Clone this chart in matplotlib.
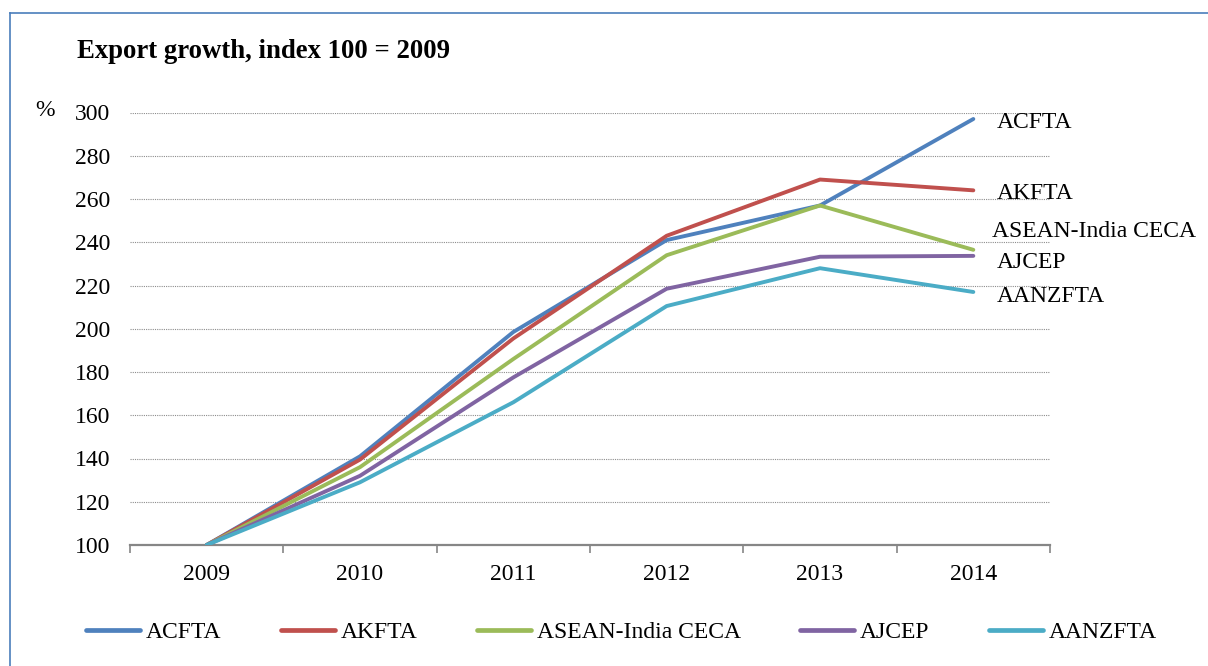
import matplotlib
matplotlib.use("Agg")
import matplotlib.pyplot as plt
from matplotlib.lines import Line2D

years = ["2009", "2010", "2011", "2012", "2013", "2014"]
series_names = ["ACFTA", "AKFTA", "ASEAN-India CECA", "AJCEP", "AANZFTA"]
acfta = [100, 141, 198.5, 241, 257, 297]
akfta = [100, 139.5, 195.5, 243, 269, 264]
asean_india = [100, 136, 186, 234, 257, 236.5]
ajcep = [100, 132, 177.5, 218.5, 233.3, 233.7]
aanzfta = [100, 129, 166, 210.5, 228, 217]
colors = ["#4F81BD", "#C0504D", "#9BBB59", "#8064A2", "#4BACC6"]
yticks = [100, 120, 140, 160, 180, 200, 220, 240, 260, 280, 300]

W, H = 1208, 666
plt.rcParams['font.family'] = ['Liberation Serif', 'DejaVu Serif']
fig = plt.figure(figsize=(W / 100, H / 100), dpi=100)

def fx(px):
    return px / W

def fy(py):
    return 1 - py / H

ax = fig.add_axes([fx(130), fy(545), fx(1050) - fx(130), fy(112.5) - fy(545)])
xs = list(range(len(years)))
for vals, name, c in zip([acfta, akfta, asean_india, ajcep, aanzfta], series_names, colors):
    ax.plot(xs, vals, color=c, lw=2.8, label=name, solid_capstyle='round', zorder=3)

ax.set_xlim(-0.5, len(years) - 0.5)
ax.set_ylim(100, 300)
ax.set_yticks(yticks)
ax.set_yticklabels([str(v) for v in yticks], fontsize=17)
ax.tick_params(axis='y', length=0, pad=14)
ax.set_xticks(xs)
ax.set_xticklabels(years, fontsize=17)
ax.set_xticks([i - 0.5 for i in range(len(years) + 1)], minor=True)
ax.tick_params(axis='x', which='major', length=0, pad=14)
ax.tick_params(axis='x', which='minor', length=6, width=1.2, color='#868686', direction='out')
for s in ['left', 'right', 'top']:
    ax.spines[s].set_visible(False)
ax.spines['bottom'].set_color('#868686')
ax.spines['bottom'].set_linewidth(1.6)
ax.yaxis.grid(True, linestyle=(0, (1, 1)), color='#8c8c8c', lw=0.8)
ax.set_axisbelow(True)

fig.text(fx(77), fy(52), "Export growth, index 100 = 2009", fontsize=19.3, fontweight='bold',
         va='center', ha='left')
fig.text(fx(35), fy(110), "%", fontsize=17, va='center', ha='left')

label_pos = [(997, 123), (997, 193), (992, 232), (997, 263), (997, 296)]
for name, (px, py) in zip(series_names, label_pos):
    fig.text(fx(px), fy(py), name, fontsize=17, va='center', ha='left')

handles = [Line2D([0], [0], color=c, lw=3.4, solid_capstyle='round') for c in colors]
fig.legend(handles, series_names, loc='center left', bbox_to_anchor=(fx(86), fy(632)),
           ncol=5, frameon=False, fontsize=17, handlelength=2.3, handletextpad=0.25,
           columnspacing=2.5, borderaxespad=0, borderpad=0)

# frame border
fig.add_artist(Line2D([fx(9.5), fx(9.5)], [fy(12.5), 0], color='#4A7EBB', lw=1.2,
                      transform=fig.transFigure))
fig.add_artist(Line2D([fx(9.5), 1], [fy(12.5), fy(12.5)], color='#4A7EBB', lw=1.2,
                      transform=fig.transFigure))

fig.savefig("out.png", dpi=100)
